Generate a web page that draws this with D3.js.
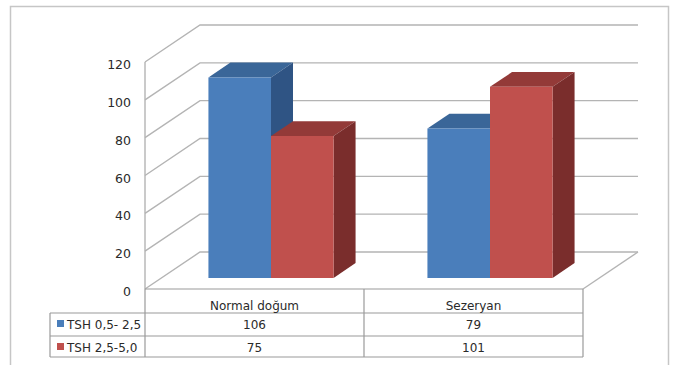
<!DOCTYPE html>
<html>
<head>
<meta charset="utf-8">
<script src="https://cdn.jsdelivr.net/npm/d3@7"></script>
<style>
  body { margin: 0; background: #fff; }
  text { font-family: "DejaVu Sans", Verdana, sans-serif; fill: #2a2a2a; }
</style>
</head>
<body>
<div id="chart-area"></div>
<script>
// DATA
const categories = ["Normal doğum", "Sezeryan"]
const seriesNames = ["TSH 0,5- 2,5", "TSH 2,5-5,0"]
const tsh1 = [106, 79]
const tsh2 = [75, 101]
const yTicks = [0, 20, 40, 60, 80, 100, 120]

const WIDTH = 673, HEIGHT = 365
const FRONT = { LEFT: 145, RIGHT: 583, TOP: 62, BOTTOM: 289 }
const DEPTH = { X: 55, Y: -37 }
const BAR_D0 = 0.3, BAR_D1 = 0.7

const colors = [
  { front: "#4a7ebb", top: "#3a6698", side: "#2f5484" },
  { front: "#c0504d", top: "#933a38", side: "#7a2d2c" }
]

const svg = d3.select("#chart-area").append("svg")
  .attr("width", WIDTH)
  .attr("height", HEIGHT)

// outer frame
svg.append("rect")
  .attr("x", 10.5).attr("y", 6.5)
  .attr("width", 658).attr("height", 370)
  .attr("fill", "none").attr("stroke", "#c6c6c6").attr("stroke-width", 1.5)

// SCALES
const x0 = d3.scaleBand().domain(categories).range([FRONT.LEFT, FRONT.RIGHT])
const x1 = d3.scaleBand().domain(seriesNames).range([0, x0.bandwidth()])
  .paddingInner(0).paddingOuter(0.75)
const y = d3.scaleLinear().domain([0, 120]).range([FRONT.BOTTOM, FRONT.TOP])

// project a front-plane point into depth d (0 front .. 1 back)
const P = (px, py, d) => [px + DEPTH.X * d, py + DEPTH.Y * d]
const pts = arr => arr.map(p => p.join(",")).join(" ")

const grid = svg.append("g")
  .attr("stroke", "#b4b4b4").attr("stroke-width", 1.4).attr("fill", "none")

// back wall gridlines + side wall diagonals
yTicks.forEach(t => {
  const a = P(FRONT.LEFT, y(t), 0)
  const b = P(FRONT.LEFT, y(t), 1)
  const c = P(FRONT.RIGHT, y(t), 1)
  grid.append("polyline").attr("points", pts([a, b, c]))
})
// side wall front edge
grid.append("line")
  .attr("x1", FRONT.LEFT).attr("x2", FRONT.LEFT)
  .attr("y1", y(120)).attr("y2", FRONT.BOTTOM)
// floor right edge
const fr0 = P(FRONT.RIGHT, y(0), 0), fr1 = P(FRONT.RIGHT, y(0), 1)
grid.append("line")
  .attr("x1", fr0[0]).attr("y1", fr0[1]).attr("x2", fr1[0]).attr("y2", fr1[1])

// tick labels
svg.append("g").selectAll("text").data(yTicks).join("text")
  .attr("x", 131).attr("y", d => y(d) + 7)
  .attr("text-anchor", "end")
  .attr("font-size", "12.5px")
  .text(d => d)

// BARS
const series = [tsh1, tsh2]
const bars = svg.append("g")
categories.forEach((cat, ci) => {
  series.forEach((vals, si) => {
    const xl = x0(cat) + x1(seriesNames[si])
    const xr = xl + x1.bandwidth()
    const yt = y(vals[ci]), yb = y(0)
    const c = colors[si]
    const fTL = P(xl, yt, BAR_D0), fTR = P(xr, yt, BAR_D0)
    const fBL = P(xl, yb, BAR_D0), fBR = P(xr, yb, BAR_D0)
    const bTL = P(xl, yt, BAR_D1), bTR = P(xr, yt, BAR_D1)
    const bBR = P(xr, yb, BAR_D1)
    bars.append("polygon").attr("points", pts([fTL, fTR, bTR, bTL])).attr("fill", c.top)
    bars.append("polygon").attr("points", pts([fTR, fBR, bBR, bTR])).attr("fill", c.side)
    bars.append("polygon").attr("points", pts([fTL, fTR, fBR, fBL])).attr("fill", c.front)
  })
})

// DATA TABLE
const ROW_H = [FRONT.BOTTOM, 313, 336, 357]
const KEY_LEFT = 50
const table = svg.append("g")
  .attr("stroke", "#9a9a9a").attr("stroke-width", 1.2).attr("fill", "none")
table.append("line").attr("x1", FRONT.LEFT).attr("x2", FRONT.RIGHT)
  .attr("y1", ROW_H[0]).attr("y2", ROW_H[0])
ROW_H.slice(1).forEach(r => {
  table.append("line").attr("x1", KEY_LEFT).attr("x2", FRONT.RIGHT)
    .attr("y1", r).attr("y2", r)
})
table.append("line").attr("x1", KEY_LEFT).attr("x2", KEY_LEFT)
  .attr("y1", ROW_H[1]).attr("y2", ROW_H[3])
;[FRONT.LEFT, x0(categories[1]), FRONT.RIGHT].forEach(xv => {
  table.append("line").attr("x1", xv).attr("x2", xv)
    .attr("y1", ROW_H[0]).attr("y2", ROW_H[3])
})

const tt = svg.append("g").attr("font-size", "12px")
categories.forEach((cat, ci) => {
  const cx = x0(cat) + x0.bandwidth() / 2
  tt.append("text").attr("x", cx).attr("y", 310)
    .attr("text-anchor", "middle").text(cat)
  series.forEach((vals, si) => {
    tt.append("text").attr("x", cx).attr("y", ROW_H[si + 1] + 16)
      .attr("text-anchor", "middle").text(vals[ci])
  })
})
seriesNames.forEach((name, si) => {
  const ry = ROW_H[si + 1]
  svg.append("rect").attr("x", 57).attr("y", ry + 7)
    .attr("width", 7).attr("height", 7).attr("fill", colors[si].front)
  tt.append("text").attr("x", 67).attr("y", ry + 15.5).text(name)
})
</script>
</body>
</html>
